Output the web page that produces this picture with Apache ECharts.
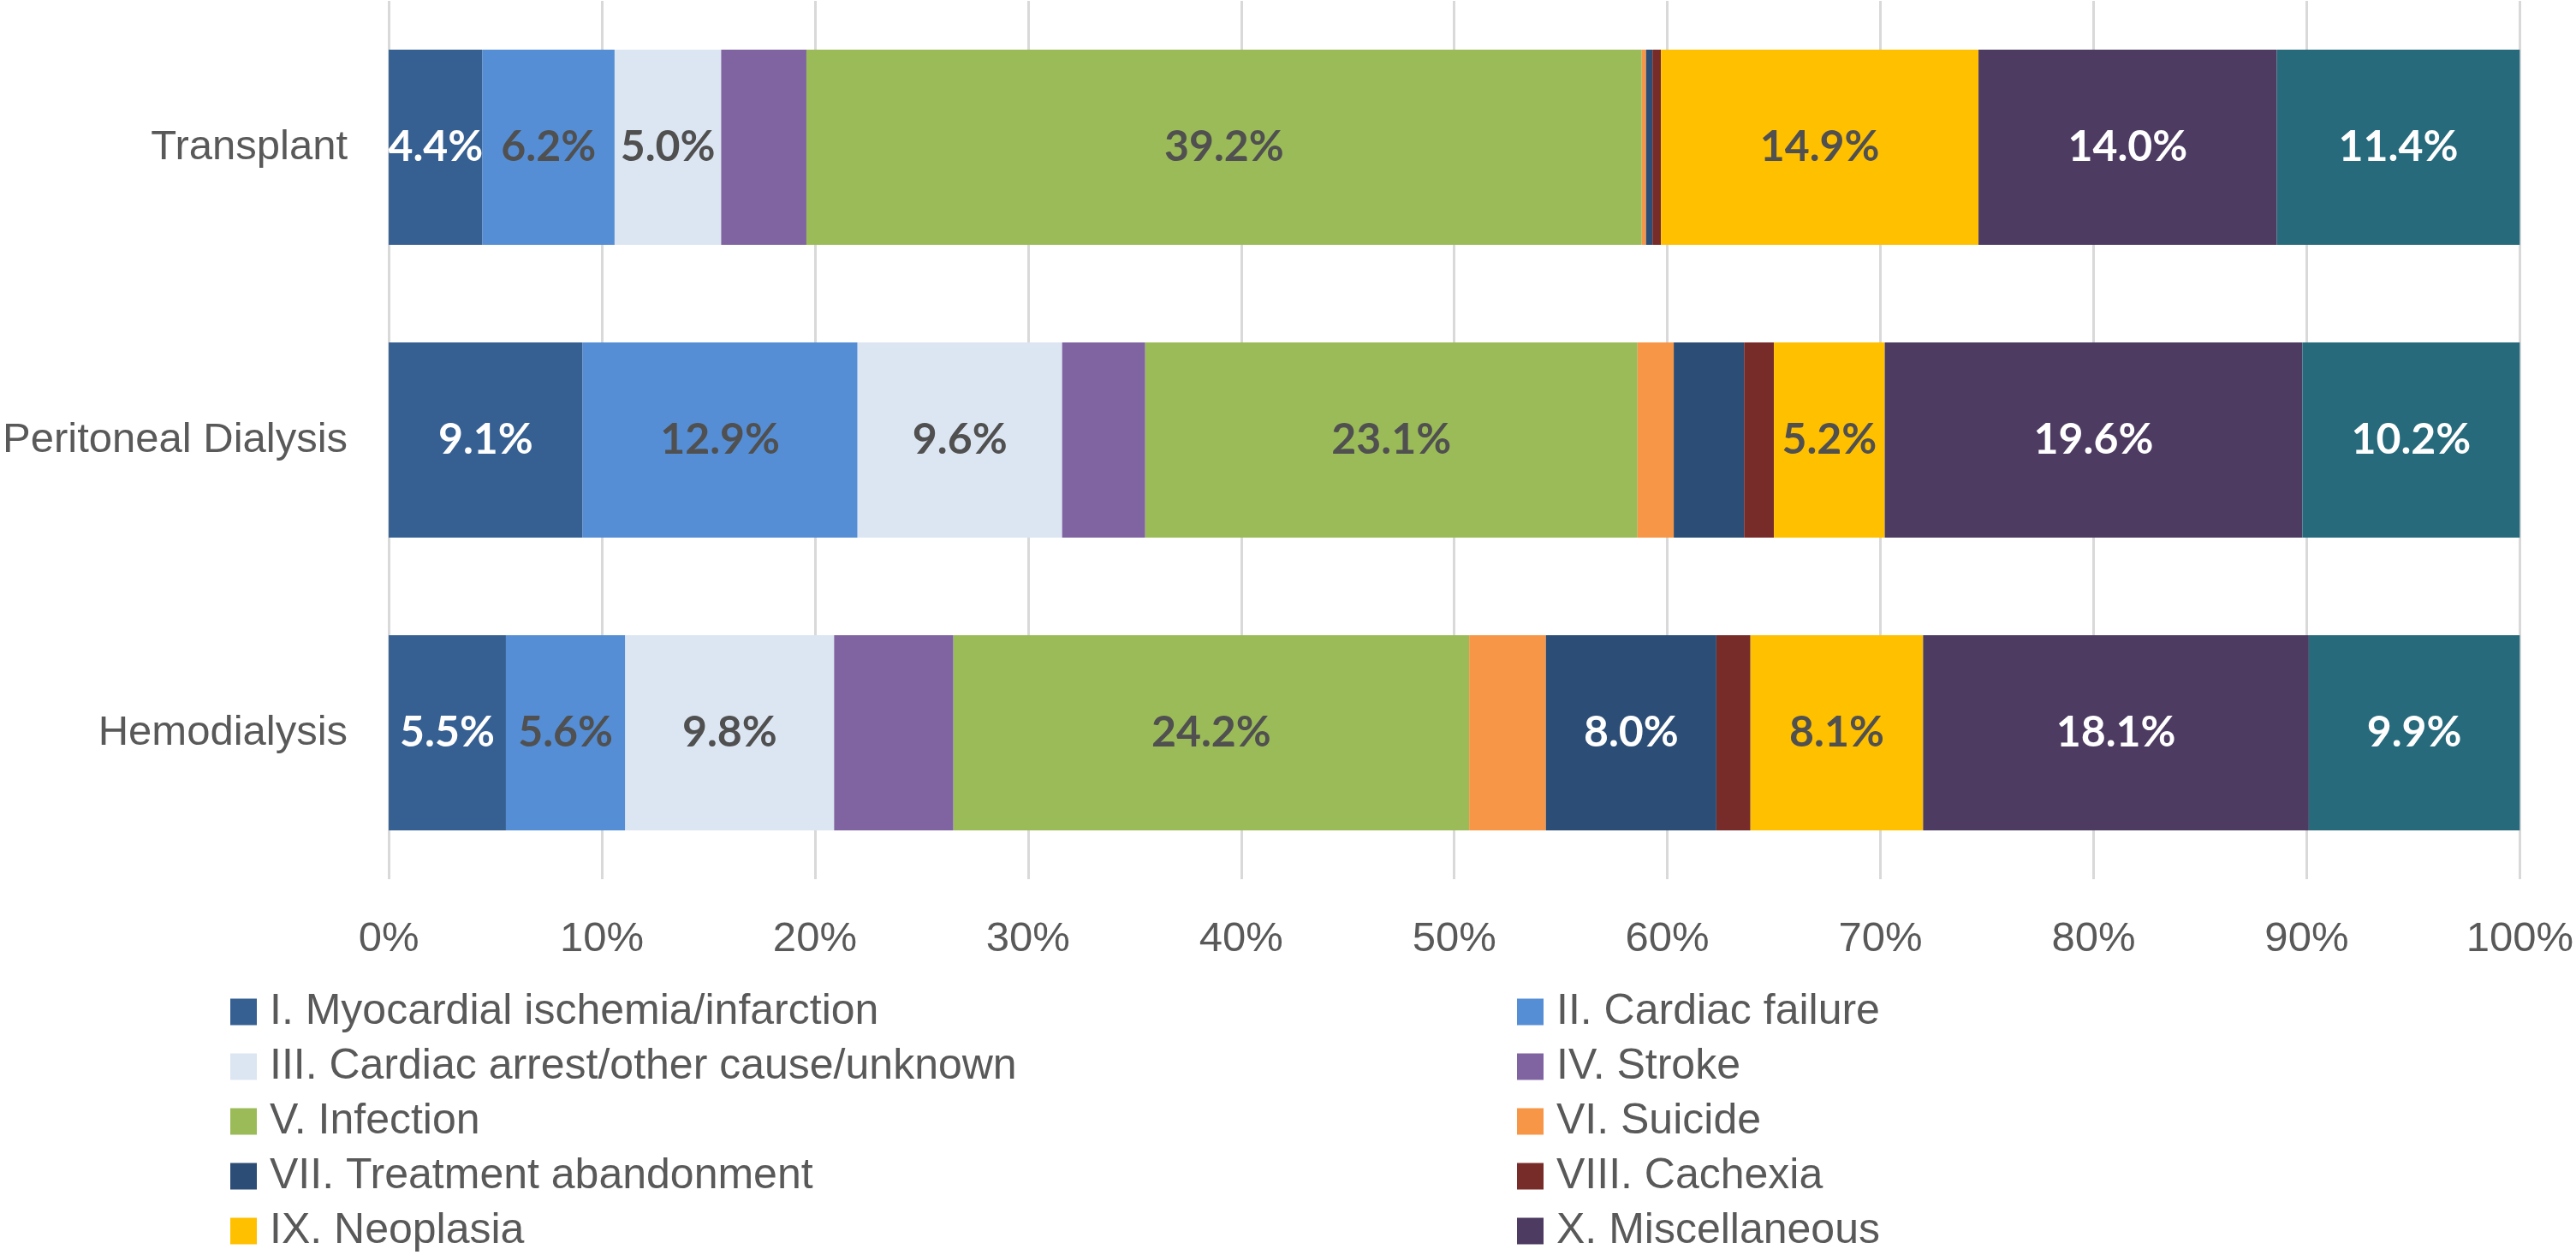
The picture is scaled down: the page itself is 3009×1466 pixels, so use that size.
<!DOCTYPE html>
<html>
<head>
<meta charset="utf-8">
<script src="https://cdn.jsdelivr.net/npm/echarts@6/dist/echarts.min.js"></script>
<style>
html,body{margin:0;padding:0;background:#fff;}
#chart{width:3009px;height:1466px;}
</style>
</head>
<body>
<div id="chart"></div>
<script>
const categories = ['Transplant', 'Peritoneal Dialysis', 'Hemodialysis'];
const seriesNames = [
  'I. Myocardial ischemia/infarction',
  'II. Cardiac failure',
  'III. Cardiac arrest/other cause/unknown',
  'IV. Stroke',
  'V. Infection',
  'VI. Suicide',
  'VII. Treatment abandonment',
  'VIII. Cachexia',
  'IX. Neoplasia',
  'X. Miscellaneous',
  'XI.'
];
// percentages per category: [Transplant, Peritoneal Dialysis, Hemodialysis]
const vI    = [4.4, 9.1, 5.5];
const vII   = [6.2, 12.9, 5.6];
const vIII  = [5.0, 9.6, 9.8];
const vIV   = [4.0, 3.9, 5.6];
const vV    = [39.2, 23.1, 24.2];
const vVI   = [0.2, 1.7, 3.6];
const vVII  = [0.3, 3.3, 8.0];
const vVIII = [0.4, 1.4, 1.6];
const vIX   = [14.9, 5.2, 8.1];
const vX    = [14.0, 19.6, 18.1];
const vXI   = [11.4, 10.2, 9.9];
const xTicks = [0, 10, 20, 30, 40, 50, 60, 70, 80, 90, 100];

const values = [vI, vII, vIII, vIV, vV, vVI, vVII, vVIII, vIX, vX, vXI];
const colors = ['#376092', '#558ED5', '#DCE6F2', '#8064A2', '#9BBB59', '#F79646',
                '#2C4D75', '#772C2A', '#FFC000', '#4D3B62', '#276A7C'];
const labelColors = ['#ffffff', '#505050', '#505050', null, '#505050', null,
                     '#ffffff', null, '#505050', '#ffffff', '#ffffff'];

const series = values.map((vals, i) => ({
  name: seriesNames[i],
  type: 'bar',
  stack: 'total',
  barCategoryGap: '33.4%',
  itemStyle: { color: colors[i] },
  label: {
    show: labelColors[i] !== null,
    position: 'inside',
    color: labelColors[i] || '#505050',
    fontFamily: 'Lato',
    fontWeight: 'bold',
    fontSize: 50,
    formatter: p => (p.value >= 4.4 ? p.value.toFixed(1) + '%' : '')
  },
  emphasis: { disabled: true },
  data: vals
}));

const legendText = { color: '#595959', fontSize: 50, fontFamily: 'Liberation Sans', lineHeight: 50, padding: [0, 0, 0, 10] };
const chart = echarts.init(document.getElementById('chart'), null, { renderer: 'canvas' });
chart.setOption({
  animation: false,
  backgroundColor: '#ffffff',
  grid: { left: 454, right: 63, top: 1, bottom: 439, containLabel: false },
  xAxis: {
    type: 'value',
    min: xTicks[0],
    max: xTicks[xTicks.length - 1],
    interval: 10,
    axisLine: { show: false },
    axisTick: { show: false },
    splitLine: { show: true, lineStyle: { color: '#D9D9D9', width: 3 } },
    axisLabel: { formatter: '{value}%', color: '#595959', fontSize: 49, fontFamily: 'Liberation Sans', margin: 46 }
  },
  yAxis: {
    type: 'category',
    data: categories,
    inverse: true,
    axisLine: { show: false },
    axisTick: { show: false },
    splitLine: { show: false },
    axisLabel: { color: '#595959', fontSize: 49, fontFamily: 'Liberation Sans', margin: 48 }
  },
  legend: [
    {
      orient: 'vertical', left: 269, top: 1157, padding: 0,
      itemWidth: 31, itemHeight: 31, itemGap: 14, icon: 'rect',
      textStyle: legendText,
      data: [seriesNames[0], seriesNames[2], seriesNames[4], seriesNames[6], seriesNames[8]]
    },
    {
      orient: 'vertical', left: 1772, top: 1157, padding: 0,
      itemWidth: 31, itemHeight: 31, itemGap: 14, icon: 'rect',
      textStyle: legendText,
      data: [seriesNames[1], seriesNames[3], seriesNames[5], seriesNames[7], seriesNames[9]]
    }
  ],
  series: series
});
</script>
</body>
</html>
